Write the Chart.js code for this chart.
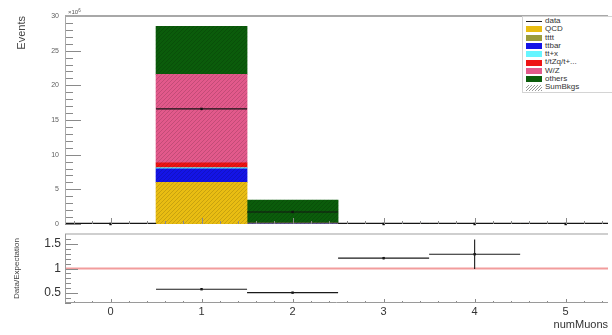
<!DOCTYPE html>
<html>
<head>
<meta charset="utf-8">
<script src="https://cdn.jsdelivr.net/npm/chart.js@4.4.1/dist/chart.umd.min.js"></script>
<style>
  html, body { margin: 0; padding: 0; background: #fff; }
  #wrap { position: relative; width: 612px; height: 335px; overflow: hidden;
          font-family: 'Liberation Sans', Arial, Helvetica, sans-serif; }
  #topCanvas { position: absolute; left: 0; top: 0; }
  #ratioCanvas { position: absolute; left: 0; top: 230px; }
  #expo { position: absolute; left: 68px; top: 8px; font-size: 6px; color: #555; line-height: 6px; }
  #expo sup { font-size: 4.5px; vertical-align: 2px; }
  #legend { position: absolute; left: 522px; top: 16px; width: 96px; border: 1px solid #d4d4d4;
            background: #fff; padding: 0; font-size: 8px; color: #333; }
  #legend .row { height: 8.3px; line-height: 8.3px; white-space: nowrap; display: flex; align-items: center; }
  #legend .sw { display: inline-block; width: 16px; height: 6px; margin: 0 3px 0 3px; flex: none; }
  #legend .sw.line { height: 0; border-top: 1px solid #222; }
</style>
</head>
<body>
<div id="wrap">
  <canvas id="topCanvas" width="612" height="230"></canvas>
  <canvas id="ratioCanvas" width="612" height="105"></canvas>
  <div id="expo">×10<sup>6</sup></div>
  <div id="legend"></div>
</div>
<script>
// numMuons bins (bin centres), values in units of 10^6 events
const bins = [0, 1, 2, 3, 4, 5];
const qcd    = [0, 6.00, 0.00, 0, 0, 0];
const tttt   = [0, 0.02, 0.00, 0, 0, 0];
const ttbar  = [0, 1.95, 0.08, 0, 0, 0];
const ttx    = [0, 0.15, 0.01, 0, 0, 0];
const tZq    = [0, 0.70, 0.02, 0, 0, 0];
const wz     = [0, 12.75, 0.03, 0, 0, 0];
const others = [0, 6.95, 3.30, 0.00058, 0.0001, 0];
const dataVals = [0, 16.6, 1.73, 0.0007, 0.00013, 0];

// data / expectation per bin
const ratioVals = [null, 0.58, 0.51, 1.21, 1.29, null];
const ratioErr  = [0, 0.004, 0.006, 0.02, 0.30, 0];

// tick labels
const xTickLabels = ['0', '1', '2', '3', '4', '5'];
const yTickLabelsTop = ['0', '5', '10', '15', '20', '25', '30'];
const yTickLabelsRatio = ['0.5', '1', '1.5'];

const FONT = "'Liberation Sans', Arial, Helvetica, sans-serif";
Chart.defaults.font.family = FONT;

const backgrounds = [
  { name: 'QCD',          values: qcd,    color: '#e9bd12' },
  { name: 'tttt',         values: tttt,   color: '#9b9b3c' },
  { name: 'ttbar',        values: ttbar,  color: '#1414e6' },
  { name: 'tt+x',         values: ttx,    color: '#66f5ff' },
  { name: 't/tZq/t+...',  values: tZq,    color: '#ee1414' },
  { name: 'W/Z',          values: wz,     color: '#e2598b' },
  { name: 'others',       values: others, color: '#0b5c0b' }
];
const totals = bins.map((b, i) => backgrounds.reduce((s, bg) => s + bg.values[i], 0));

// diagonal hatch used for the summed-background overlay
function makeHatch(alpha) {
  const c = document.createElement('canvas');
  c.width = 4; c.height = 4;
  const g = c.getContext('2d');
  g.strokeStyle = 'rgba(0,0,0,' + alpha + ')';
  g.lineWidth = 0.9;
  g.beginPath();
  g.moveTo(0, 4); g.lineTo(4, 0);
  g.moveTo(-1, 1); g.lineTo(1, -1);
  g.moveTo(3, 5); g.lineTo(5, 3);
  g.stroke();
  return document.getElementById('topCanvas').getContext('2d').createPattern(c, 'repeat');
}
const hatch = makeHatch(0.16);

// legend
const legendEl = document.getElementById('legend');
function addLegendRow(label, swatchStyle, isLine) {
  const row = document.createElement('div');
  row.className = 'row';
  const sw = document.createElement('span');
  sw.className = 'sw' + (isLine ? ' line' : '');
  if (swatchStyle) sw.style.background = swatchStyle;
  row.appendChild(sw);
  row.appendChild(document.createTextNode(label));
  legendEl.appendChild(row);
}
addLegendRow('data', null, true);
backgrounds.forEach(bg => addLegendRow(bg.name, bg.color, false));
addLegendRow('SumBkgs', 'repeating-linear-gradient(135deg, #fff 0 1.5px, #9a9a9a 1.5px 2.2px)', false);

const X_MIN = -0.5, X_MAX = 5.465;

function line(ctx, x1, y1, x2, y2) {
  ctx.beginPath(); ctx.moveTo(x1, y1); ctx.lineTo(x2, y2); ctx.stroke();
}

// keep the plot frame exactly where the layout padding puts it
function fixVertical(s) {
  s.width = 65;
  s.paddingTop = 0;
  s.paddingBottom = 0;
}
function fixHorizontal(h) {
  return (s) => {
    s.height = h;
    s.paddingLeft = 0;
    s.paddingRight = 0;
  };
}

// frame, inner ticks and data error bars for the main panel
const topDecor = {
  id: 'topDecor',
  afterDatasetsDraw(chart) {
    const { ctx, chartArea: a, scales: { x, y } } = chart;
    ctx.save();
    ctx.beginPath();
    ctx.rect(a.left, a.top - 2, a.right - a.left, a.bottom - a.top + 4);
    ctx.clip();
    // data: bin-wide horizontal bars
    ctx.strokeStyle = '#151515';
    ctx.lineWidth = 1.2;
    bins.forEach((b, i) => {
      const yy = Math.min(y.getPixelForValue(dataVals[i]), a.bottom - 0.6);
      line(ctx, x.getPixelForValue(b - 0.5), yy, x.getPixelForValue(b + 0.5), yy);
    });
    ctx.restore();

    ctx.save();
    ctx.strokeStyle = '#8a8a8a';
    ctx.lineWidth = 1;
    // left axis ticks
    for (let k = 0; k <= 30; k++) {
      const yy = Math.round(y.getPixelForValue(k)) + 0.5;
      line(ctx, a.left, yy, a.left + (k % 5 === 0 ? 16 : 8), yy);
    }
    // bottom axis ticks
    for (let k = -2; k <= 27; k++) {
      const xx = Math.round(x.getPixelForValue(k * 0.2)) + 0.5;
      line(ctx, xx, a.bottom, xx, a.bottom - (k % 5 === 0 ? 6 : 3));
    }
    // frame
    ctx.strokeStyle = '#a8a8a8';
    ctx.lineWidth = 2;
    line(ctx, a.left, a.top, a.right, a.top);
    ctx.lineWidth = 1;
    line(ctx, a.left + 0.5, a.top, a.left + 0.5, a.bottom);
    ctx.restore();
  }
};

const barSets = backgrounds.map(bg => ({
  label: bg.name,
  data: bins.map((b, i) => ({ x: b, y: bg.values[i] })),
  backgroundColor: bg.color,
  stack: 'bkg',
  order: 5
}));

new Chart(document.getElementById('topCanvas'), {
  type: 'bar',
  data: {
    datasets: [
      {
        type: 'line',
        label: 'data',
        data: bins.map((b, i) => ({ x: b, y: dataVals[i] })),
        showLine: false,
        pointStyle: 'rect',
        pointRadius: 1.7,
        pointBackgroundColor: '#111',
        pointBorderWidth: 0,
        clip: false,
        order: -2
      },
      {
        label: 'SumBkgs',
        data: bins.map((b, i) => ({ x: b, y: totals[i] })),
        backgroundColor: hatch,
        stack: 'sum',
        order: -1
      },
      ...barSets
    ]
  },
  options: {
    responsive: false,
    animation: false,
    events: [],
    layout: { padding: { left: 0, right: 0, top: 16, bottom: 6 } },
    datasets: { bar: { grouped: false, categoryPercentage: 1, barPercentage: 1, borderWidth: 0 } },
    plugins: { legend: { display: false }, tooltip: { enabled: false } },
    scales: {
      x: {
        type: 'linear', min: X_MIN, max: X_MAX, display: false, offset: false,
        ticks: { stepSize: 1, includeBounds: false }
      },
      y: {
        min: 0, max: 30, stacked: true,
        border: { display: false },
        grid: { display: false, drawTicks: false },
        ticks: {
          stepSize: 5, padding: 6, color: '#606060', font: { size: 7 },
          callback: (v) => yTickLabelsTop[Math.round(v / 5)]
        },
        title: {
          display: true, text: 'Events', align: 'end', color: '#444',
          font: { size: 11 }, padding: { top: 15, bottom: 0 }
        },
        afterFit: fixVertical
      }
    }
  },
  plugins: [topDecor]
});

// ratio panel: frame, ticks and error bars
const ratioDecor = {
  id: 'ratioDecor',
  afterDatasetsDraw(chart) {
    const { ctx, chartArea: a, scales: { x, y } } = chart;
    ctx.save();
    ctx.beginPath();
    ctx.rect(a.left, a.top, a.right - a.left, a.bottom - a.top);
    ctx.clip();
    ctx.strokeStyle = '#1a1a1a';
    ctx.lineWidth = 1.1;
    bins.forEach((b, i) => {
      if (ratioVals[i] === null) return;
      const yy = y.getPixelForValue(ratioVals[i]);
      line(ctx, x.getPixelForValue(b - 0.5), yy, x.getPixelForValue(b + 0.5), yy);
      const xx = x.getPixelForValue(b);
      line(ctx, xx, y.getPixelForValue(ratioVals[i] + ratioErr[i]), xx, y.getPixelForValue(ratioVals[i] - ratioErr[i]));
    });
    ctx.restore();

    ctx.save();
    ctx.strokeStyle = '#8a8a8a';
    ctx.lineWidth = 1;
    for (let k = 3; k <= 17; k++) {
      const yy = Math.round(y.getPixelForValue(k / 10)) + 0.5;
      line(ctx, a.left, yy, a.left + (k % 5 === 0 ? 13 : 6), yy);
    }
    for (let k = -2; k <= 27; k++) {
      const xx = Math.round(x.getPixelForValue(k * 0.2)) + 0.5;
      line(ctx, xx, a.bottom, xx, a.bottom - (k % 5 === 0 ? 4 : 2));
    }
    ctx.strokeStyle = '#cfcfcf';
    ctx.lineWidth = 2;
    line(ctx, a.left, a.top, a.right, a.top);
    ctx.strokeStyle = '#9a9a9a';
    ctx.lineWidth = 1;
    line(ctx, a.left, a.bottom - 0.5, a.right, a.bottom - 0.5);
    line(ctx, a.left + 0.5, a.top, a.left + 0.5, a.bottom);
    ctx.restore();
  }
};

new Chart(document.getElementById('ratioCanvas'), {
  type: 'scatter',
  data: {
    datasets: [
      {
        type: 'line',
        label: 'unity',
        data: [{ x: -0.5, y: 1 }, { x: 5.5, y: 1 }],
        borderColor: '#f29c9c',
        borderWidth: 2,
        pointRadius: 0,
        order: 3
      },
      {
        label: 'Data/Expectation',
        data: bins.map((b, i) => ({ x: b, y: ratioVals[i] })).filter(p => p.y !== null),
        pointStyle: 'rect',
        pointRadius: 1.7,
        pointBackgroundColor: '#111',
        pointBorderWidth: 0,
        order: 0
      }
    ]
  },
  options: {
    responsive: false,
    animation: false,
    events: [],
    layout: { padding: { left: 0, right: 0, top: 3, bottom: 0 } },
    plugins: { legend: { display: false }, tooltip: { enabled: false } },
    scales: {
      x: {
        type: 'linear', min: X_MIN, max: X_MAX, offset: false,
        border: { display: false },
        grid: { display: false, drawTicks: false },
        ticks: {
          stepSize: 1, includeBounds: false, padding: 2, color: '#333', font: { size: 11 },
          maxRotation: 0, autoSkip: false,
          callback: (v) => Number.isInteger(v) ? xTickLabels[v] : ''
        },
        title: {
          display: true, text: 'numMuons', align: 'end', color: '#333',
          font: { size: 11 }, padding: { top: 0, bottom: 3 }
        },
        afterFit: fixHorizontal(32)
      },
      y: {
        min: 0.3, max: 1.7,
        border: { display: false },
        grid: { display: false, drawTicks: false },
        ticks: {
          stepSize: 0.5, includeBounds: false, padding: 4, color: '#333', font: { size: 12 },
          callback: (v) => yTickLabelsRatio[Math.round(v * 2) - 1]
        },
        title: {
          display: true, text: 'Data/Expectation', align: 'center', color: '#444',
          font: { size: 8 }, padding: { top: 12, bottom: 0 }
        },
        afterFit: fixVertical
      }
    }
  },
  plugins: [ratioDecor]
});
</script>
</body>
</html>
